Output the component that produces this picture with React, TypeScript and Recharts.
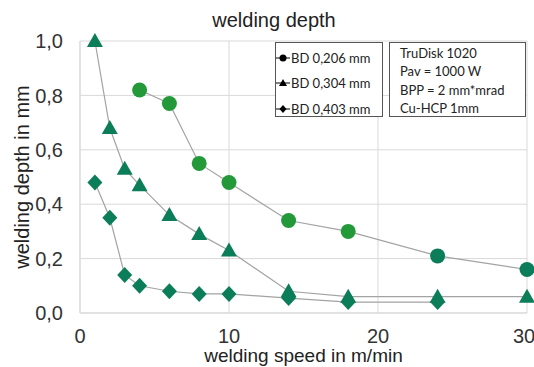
import { LineChart, Line, XAxis, YAxis, CartesianGrid, Legend } from 'recharts';

const speedsA = [4, 6, 8, 10, 14, 18, 24, 30];
const depthA = [0.82, 0.77, 0.55, 0.48, 0.34, 0.30, 0.21, 0.16];
const speedsB = [1, 2, 3, 4, 6, 8, 10, 14, 18, 24, 30];
const depthB = [1.0, 0.68, 0.53, 0.47, 0.36, 0.29, 0.23, 0.08, 0.06, 0.06, 0.06];
const speedsC = [1, 2, 3, 4, 6, 8, 10, 14, 18, 24];
const depthC = [0.48, 0.35, 0.14, 0.10, 0.08, 0.07, 0.07, 0.055, 0.04, 0.04];

const seriesNames = ['BD 0,206 mm', 'BD 0,304 mm', 'BD 0,403 mm'];
const infoLines = ['TruDisk 1020', 'Pav = 1000 W', 'BPP = 2 mm*mrad', 'Cu-HCP 1mm'];
const xTicks = [0, 10, 20, 30];
const yTicks = [0, 0.2, 0.4, 0.6, 0.8, 1.0];

const dark = '#0b7d58';
const light = '#23993a';
const lineColor = '#a3a3a3';
const font = '"Liberation Sans", Arial, sans-serif';

const toRows = (xs: number[], ys: number[]) => xs.map((x, i) => ({ x, y: ys[i] }));
const dataA = toRows(speedsA, depthA);
const dataB = toRows(speedsB, depthB);
const dataC = toRows(speedsC, depthC);

const circleDot = (p: any) => (
  <circle key={`a-${p.index}`} cx={p.cx} cy={p.cy} r={7.5} fill={p.payload.x >= 24 ? dark : light} />
);
const triangleDot = (p: any) => (
  <polygon key={`b-${p.index}`} fill={dark}
    points={`${p.cx},${p.cy - 8} ${p.cx - 8},${p.cy + 6} ${p.cx + 8},${p.cy + 6}`} />
);
const diamondDot = (p: any) => (
  <polygon key={`c-${p.index}`} fill={dark}
    points={`${p.cx},${p.cy - 8} ${p.cx + 7.5},${p.cy} ${p.cx},${p.cy + 8} ${p.cx - 7.5},${p.cy}`} />
);

function LegendMarker({ kind }: { kind: number }) {
  return (
    <svg width={14} height={10} style={{ marginRight: 1 }}>
      <line x1={0} y1={5} x2={14} y2={5} stroke="#000" strokeWidth={1} />
      {kind === 0 && <circle cx={7} cy={5} r={3.5} fill="#000" />}
      {kind === 1 && <polygon points="7,1 3,8 11,8" fill="#000" />}
      {kind === 2 && <polygon points="7,1 10.5,5 7,9 3.5,5" fill="#000" />}
    </svg>
  );
}

function LegendBoxes() {
  const box = { border: '1px solid #555', background: '#fff', boxSizing: 'border-box' as const, position: 'absolute' as const, top: 0 };
  return (
    <div style={{ fontFamily: 'Lato, sans-serif', fontSize: 13, color: '#222' }}>
      <div style={{ ...box, left: 0, width: 108, height: 75, paddingTop: 2 }}>
        {seriesNames.map((n, i) => (
          <div key={n} style={{ display: 'flex', alignItems: 'center', height: 25.5, whiteSpace: 'nowrap' }}>
            <LegendMarker kind={i} />
            {n}
          </div>
        ))}
      </div>
      <div style={{ ...box, left: 114, width: 137, height: 75, padding: '1px 0 0 10px' }}>
        {infoLines.map(t => (
          <div key={t} style={{ height: 18.3, lineHeight: '18px', whiteSpace: 'nowrap' }}>{t}</div>
        ))}
      </div>
    </div>
  );
}

export default function App() {
  return (
    <div style={{ position: 'absolute', left: 0, top: 0, width: 534, height: 367, background: '#fff', fontFamily: font }}>
      <div style={{ position: 'absolute', left: 174, width: 200, top: 9, textAlign: 'center', fontSize: 20, color: '#222' }}>
        welding depth
      </div>
      <LineChart width={534} height={367} margin={{ top: 41, right: 7, bottom: 0, left: 0 }}>
        <CartesianGrid stroke="#d9d9d9" />
        <XAxis
          type="number" dataKey="x" domain={[0, 30]} ticks={xTicks} height={54}
          axisLine={{ stroke: '#d9d9d9' }} tickLine={false} tickMargin={10}
          tick={{ fontSize: 20, fill: '#333', fontFamily: font }}
          allowDuplicatedCategory={false}
          label={{ value: 'welding speed in m/min', position: 'insideBottom', offset: 5, fontSize: 19, fill: '#222', fontFamily: font }}
        />
        <YAxis
          type="number" domain={[0, 1]} ticks={yTicks} width={80}
          axisLine={{ stroke: '#d9d9d9' }} tickLine={false} tickMargin={11}
          tickFormatter={(v: number) => v.toFixed(1).replace('.', ',')}
          tick={{ fontSize: 20, fill: '#333', fontFamily: font }}
          label={{ value: 'welding depth in mm', angle: -90, position: 'center', dx: -18, fontSize: 20, fill: '#222', fontFamily: font }}
        />
        <Legend
          layout="horizontal" verticalAlign="middle" align="center"
          wrapperStyle={{ left: 275, top: 42, width: 252, height: 75 }}
          content={() => <LegendBoxes />}
        />
        <Line data={dataA} dataKey="y" name={seriesNames[0]} stroke={lineColor} strokeWidth={1.2}
          dot={circleDot} activeDot={false} isAnimationActive={false} />
        <Line data={dataB} dataKey="y" name={seriesNames[1]} stroke={lineColor} strokeWidth={1.2}
          dot={triangleDot} activeDot={false} isAnimationActive={false} />
        <Line data={dataC} dataKey="y" name={seriesNames[2]} stroke={lineColor} strokeWidth={1.2}
          dot={diamondDot} activeDot={false} isAnimationActive={false} />
      </LineChart>
    </div>
  );
}
